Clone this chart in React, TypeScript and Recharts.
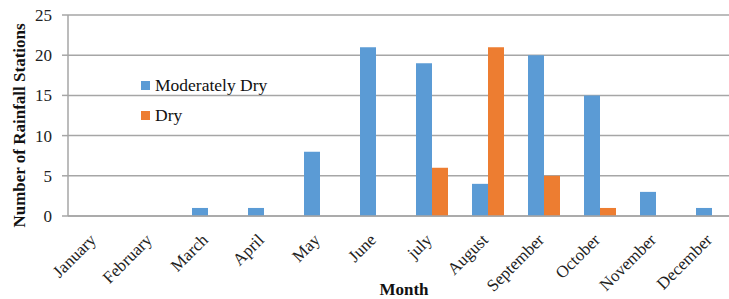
import React from "react";
import { BarChart, Bar, XAxis, YAxis, CartesianGrid, Legend } from "recharts";

const months = ["January", "February", "March", "April", "May", "June", "july", "August", "September", "October", "November", "December"];
const moderatelyDry = [0, 0, 1, 1, 8, 21, 19, 4, 20, 15, 3, 1];
const dry = [0, 0, 0, 0, 0, 0, 6, 21, 5, 1, 0, 0];
const yTicks = [0, 5, 10, 15, 20, 25];
const seriesNames = ["Moderately Dry", "Dry"];

const data = months.map((m, i) => ({ month: m, moderatelyDry: moderatelyDry[i], dry: dry[i] }));

const FONT = "'Times New Roman', 'Liberation Serif', 'DejaVu Serif', serif";
const GRID = "#a6a6a6";

const XTick = (props: any) => {
  const { x, y, payload } = props;
  return (
    <g transform={`translate(${x + 1},${y + 17})`}>
      <text transform="rotate(-45)" textAnchor="end" fontFamily={FONT} fontSize={17} fill="#222">
        {payload.value}
      </text>
    </g>
  );
};

const YTick = (props: any) => {
  const { x, y, payload } = props;
  return (
    <text x={x} y={y} dy={6} textAnchor="end" fontFamily={FONT} fontSize={17} fill="#222">
      {payload.value}
    </text>
  );
};

const YLabel = (props: any) => {
  const vb = props.viewBox || { x: 0, y: 15, width: 68, height: 201 };
  const cx = 25;
  const cy = vb.y + vb.height / 2 + 10;
  return (
    <text x={cx} y={cy} transform={`rotate(-90, ${cx}, ${cy})`} textAnchor="middle" fontFamily={FONT} fontWeight="bold" fontSize={17} fill="#111">
      Number of Rainfall Stations
    </text>
  );
};

const XLabel = (props: any) => {
  const vb = props.viewBox || { x: 68, y: 216, width: 672, height: 83 };
  return (
    <text x={vb.x + vb.width / 2} y={295} textAnchor="middle" fontFamily={FONT} fontWeight="bold" fontSize={17} fill="#111">
      Month
    </text>
  );
};

const LegendContent = (props: any) => {
  const items = [...(props.payload || [])].sort((a: any, b: any) => seriesNames.indexOf(a.value) - seriesNames.indexOf(b.value));
  return (
    <div style={{ fontFamily: FONT, fontSize: 17.5, color: "#111" }}>
      {items.map((p: any) => (
        <div key={p.value} style={{ display: "flex", alignItems: "center", height: 30 }}>
          <span style={{ display: "inline-block", width: 9, height: 9, background: p.color, marginRight: 5 }} />
          <span>{p.value}</span>
        </div>
      ))}
    </div>
  );
};

export default function App() {
  return (
    <div style={{ position: "absolute", left: 0, top: 0, width: 729, height: 299, overflow: "hidden", background: "#fff" }}>
      <BarChart width={740} height={299} data={data} margin={{ top: 15, right: 0, bottom: 0, left: 0 }} barGap={0} barSize={16}>
        <CartesianGrid vertical={false} stroke={GRID} strokeWidth={1.5} />
        <XAxis
          dataKey="month"
          height={83}
          tickLine={false}
          axisLine={{ stroke: GRID, strokeWidth: 1.5 }}
          tick={<XTick />}
          interval={0}
          label={<XLabel />}
        />
        <YAxis
          width={68}
          domain={[0, 25]}
          ticks={yTicks}
          tickSize={6}
          tickMargin={10}
          tickLine={{ stroke: GRID, strokeWidth: 1.5 }}
          axisLine={{ stroke: GRID, strokeWidth: 1.5 }}
          tick={<YTick />}
          label={<YLabel />}
        />
        <Legend
          layout="vertical"
          align="center"
          verticalAlign="middle"
          content={<LegendContent />}
          wrapperStyle={{ position: "absolute", left: 141, top: 70, width: 200 }}
        />
        <Bar dataKey="moderatelyDry" name={seriesNames[0]} fill="#5B9BD5" isAnimationActive={false} />
        <Bar dataKey="dry" name={seriesNames[1]} fill="#ED7D31" isAnimationActive={false} />
      </BarChart>
    </div>
  );
}
